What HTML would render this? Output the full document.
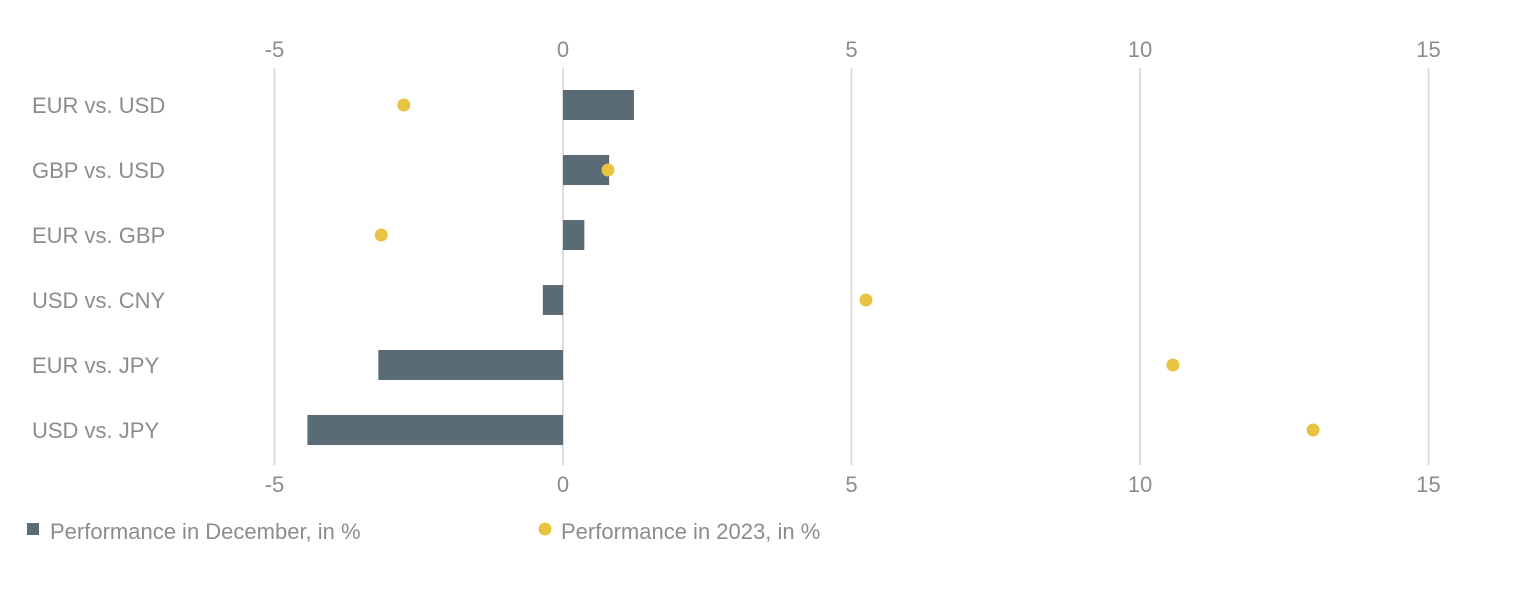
<!DOCTYPE html>
<html><head><meta charset="utf-8"><style>
body{margin:0;background:#fff;}
svg{display:block;font-family:"Liberation Sans",sans-serif;}
</style></head><body>
<svg id="chart" width="1535" height="591"></svg>
<script>
const categories=["EUR vs. USD","GBP vs. USD","EUR vs. GBP","USD vs. CNY","EUR vs. JPY","USD vs. JPY"];
const decemberValues=[1.23,0.8,0.37,-0.35,-3.2,-4.43];
const yearValues=[-2.76,0.78,-3.15,5.25,10.57,13.0];
const tickValues=[-5,0,5,10,15];
const tickLabels=["-5","0","5","10","15"];
const NS="http://www.w3.org/2000/svg";
const svg=document.getElementById("chart");
const x=v=>563+v*57.7;
const y=i=>105+i*65;
function mk(t,a,p){const e=document.createElementNS(NS,t);for(const k in a)e.setAttribute(k,a[k]);(p||svg).appendChild(e);return e;}
tickValues.forEach((v,i)=>{
 const g=mk("line",{x1:x(v),x2:x(v),y1:68,y2:465,stroke:"#dcdcdc","stroke-width":2});
 
 
 [57,492].forEach((yy,j)=>{
  const t=mk("text",{x:x(v),y:yy,"text-anchor":"middle","font-size":22,fill:"#8c8c8c"});
  t.textContent=tickLabels[i];
  
  
 });
});
categories.forEach((c,i)=>{
 const t=mk("text",{x:32,y:y(i)+8,"font-size":22,fill:"#8c8c8c"});
 t.textContent=c;
 
 
 const v=decemberValues[i];
 const b=mk("rect",{x:Math.min(x(0),x(v)),y:y(i)-15,width:Math.abs(x(v)-x(0)),height:30,fill:"#5a6b76"});
 
 
});
yearValues.forEach((v,i)=>{
 const d=mk("circle",{cx:x(v),cy:y(i),r:6.5,fill:"#e8c340"});
 
 
});
const l1=mk("rect",{x:27,y:523,width:12,height:12,fill:"#5a6b76"});


const t1=mk("text",{x:50,y:539,"font-size":22,fill:"#8c8c8c"});
t1.textContent="Performance in December, in %";


const l2=mk("circle",{cx:545,cy:529,r:6.5,fill:"#e8c340"});


const t2=mk("text",{x:561,y:539,"font-size":22,fill:"#8c8c8c"});
t2.textContent="Performance in 2023, in %";


</script>
</body></html>
